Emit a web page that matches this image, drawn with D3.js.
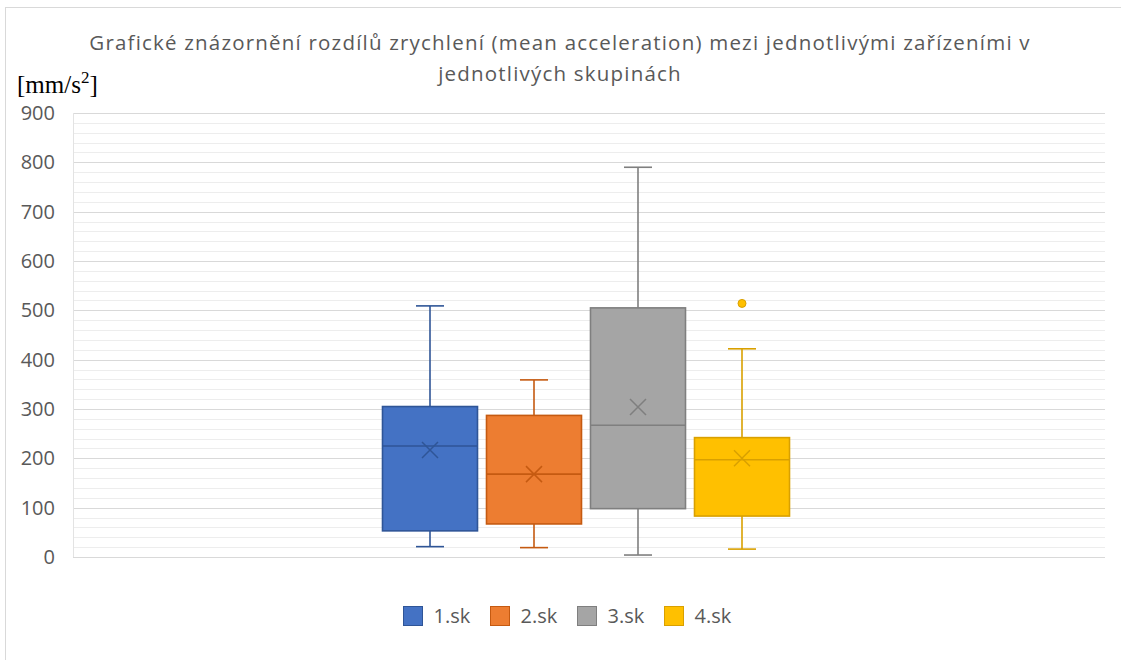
<!DOCTYPE html>
<html><head><meta charset="utf-8">
<script src="https://cdn.jsdelivr.net/npm/d3@7"></script>
<style>body{margin:0;background:#fff}svg{display:block}</style>
</head><body><svg id="c" width="1121" height="660"></svg>
<script>
const series = ["1.sk","2.sk","3.sk","4.sk"];
const whiskerLow  = [21, 19, 4, 16];
const q1          = [53, 67, 98, 83];
const median      = [225, 168, 267, 197];
const q3          = [305, 287, 505, 242];
const whiskerHigh = [509, 359, 790, 422];
const means       = [217, 168, 304, 200];
const outliers    = [[], [], [], [514]];
const fills   = ["#4472C4","#ED7D31","#A5A5A5","#FFC000"];
const strokes = ["#2F5597","#C55A11","#7F7F7F","#D9A000"];
const yTicks = [0,100,200,300,400,500,600,700,800,900];
const titleLines = ["Grafické znázornění rozdílů zrychlení (mean acceleration) mezi jednotlivými zařízeními v","jednotlivých skupinách"];

const svg = d3.select("#c");
const plot = {l:73, r:1105, t:113, b:557};

svg.append("rect").attr("x",5.5).attr("y",7.5).attr("width",1200).attr("height",800)
  .attr("fill","#fff").attr("stroke","#D9D9D9");

const y = d3.scaleLinear().domain([0,900]).range([plot.b, plot.t]);

// grid
const g = svg.append("g");
g.selectAll("line.minor").data(d3.range(0,901,20).filter(v=>v%100!==0)).join("line")
  .attr("x1",plot.l).attr("x2",plot.r).attr("y1",d=>Math.round(y(d))+0.5).attr("y2",d=>Math.round(y(d))+0.5)
  .attr("stroke","#EDEDED").attr("stroke-width",1);
g.selectAll("line.major").data(yTicks).join("line")
  .attr("x1",plot.l).attr("x2",plot.r).attr("y1",d=>Math.round(y(d))+0.5).attr("y2",d=>Math.round(y(d))+0.5)
  .attr("stroke","#D9D9D9").attr("stroke-width",1);
g.append("line").attr("x1",plot.l+0.5).attr("x2",plot.l+0.5).attr("y1",plot.t).attr("y2",plot.b)
  .attr("stroke","#E3E3E3");

// y axis labels
const yAxis = d3.axisLeft(y).tickValues(yTicks).tickSize(0).tickPadding(0);
const ya = svg.append("g").attr("transform",`translate(55,0)`).call(yAxis);
ya.select(".domain").remove();
ya.selectAll("text").attr("font-family","Open Sans, sans-serif").attr("font-size",20).attr("fill","#595959");

// title
svg.append("g").selectAll("text").data(titleLines).join("text")
  .attr("x",560).attr("y",(d,i)=>50+i*31).attr("text-anchor","middle")
  .attr("font-family","Open Sans, sans-serif").attr("font-size",20.5).attr("letter-spacing",1.2)
  .attr("fill","#595959").text(d=>d);

// unit label
const ul = svg.append("text").attr("x",17).attr("y",93).attr("font-family","Liberation Serif, serif")
  .attr("font-size",25).attr("fill","#000");
ul.append("tspan").text("[mm/s");
ul.append("tspan").attr("dy",-10).attr("font-size",17).text("2");
ul.append("tspan").attr("dy",10).text("]");

// boxes
const center = 586, step = 104, bw = 95;
const x = d3.scaleBand().domain(series).range([center-(4*step-(step-bw))/2, center+(4*step-(step-bw))/2]).paddingInner((step-bw)/step).paddingOuter(0);
const cap = 28;
series.forEach((s,i)=>{
  const x0 = x(s), xc = x0 + x.bandwidth()/2, bwid = x.bandwidth();
  const gg = svg.append("g");
  const sw = 1.6;
  gg.append("line").attr("x1",xc).attr("x2",xc).attr("y1",y(whiskerHigh[i])).attr("y2",y(q3[i])).attr("stroke",strokes[i]).attr("stroke-width",sw);
  gg.append("line").attr("x1",xc).attr("x2",xc).attr("y1",y(q1[i])).attr("y2",y(whiskerLow[i])).attr("stroke",strokes[i]).attr("stroke-width",sw);
  gg.append("line").attr("x1",xc-cap/2).attr("x2",xc+cap/2).attr("y1",y(whiskerHigh[i])).attr("y2",y(whiskerHigh[i])).attr("stroke",strokes[i]).attr("stroke-width",sw);
  gg.append("line").attr("x1",xc-cap/2).attr("x2",xc+cap/2).attr("y1",y(whiskerLow[i])).attr("y2",y(whiskerLow[i])).attr("stroke",strokes[i]).attr("stroke-width",sw);
  gg.append("rect").attr("x",x0).attr("width",bwid).attr("y",y(q3[i])).attr("height",y(q1[i])-y(q3[i]))
    .attr("fill",fills[i]).attr("stroke",strokes[i]).attr("stroke-width",sw);
  gg.append("line").attr("x1",x0).attr("x2",x0+bwid).attr("y1",y(median[i])).attr("y2",y(median[i])).attr("stroke",strokes[i]).attr("stroke-width",sw);
  const m = y(means[i]), r = 8;
  gg.append("path").attr("d",`M${xc-r},${m-r}L${xc+r},${m+r}M${xc-r},${m+r}L${xc+r},${m-r}`).attr("stroke",strokes[i]).attr("stroke-width",1.5).attr("fill","none");
  gg.selectAll("circle").data(outliers[i]).join("circle").attr("cx",xc).attr("cy",d=>y(d)).attr("r",4)
    .attr("fill",fills[i]).attr("stroke",strokes[i]).attr("stroke-width",1);
});

// legend
const legX = [403.5, 490.5, 577.5, 664.5];
const lg = svg.append("g");
series.forEach((s,i)=>{
  lg.append("rect").attr("x",legX[i]).attr("y",606.5).attr("width",19).attr("height",19)
    .attr("fill",fills[i]).attr("stroke",strokes[i]).attr("stroke-width",1);
  lg.append("text").attr("x",legX[i]+30).attr("y",623).attr("font-family","Open Sans, sans-serif")
    .attr("font-size",20).attr("fill","#595959").text(s);
});
</script></body></html>
